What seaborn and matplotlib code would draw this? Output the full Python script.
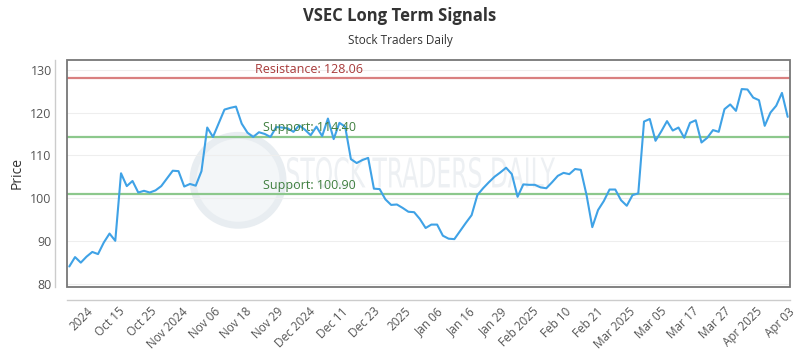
"""VSEC long term signals: price line with resistance / support levels."""

import numpy as np
import pandas as pd
import seaborn as sns
import matplotlib.pyplot as plt
from matplotlib.patches import Rectangle, Ellipse, PathPatch
from matplotlib.textpath import TextPath
from matplotlib.font_manager import FontProperties
from matplotlib.transforms import Affine2D

PRICES = [
    84.0, 86.2, 84.9, 86.3, 87.4, 86.9, 89.6, 91.7, 90.0, 105.8,
    102.8, 104.0, 101.3, 101.7, 101.3, 101.8, 102.8, 104.6, 106.4, 106.3,
    102.7, 103.3, 102.9, 106.3, 116.5, 114.3, 117.5, 120.7, 121.1, 121.4,
    117.4, 115.3, 114.3, 115.4, 115.0, 114.3, 116.6, 116.5, 116.3, 115.5,
    117.0, 116.0, 114.7, 116.7, 114.5, 118.6, 113.8, 117.6, 116.7, 109.1,
    108.2, 108.9, 109.4, 102.2, 102.1, 99.7, 98.4, 98.5, 97.7, 96.8,
    96.7, 95.1, 93.0, 93.8, 93.8, 91.2, 90.5, 90.4, 92.3, 94.2,
    96.0, 100.7, 102.3, 103.7, 105.0, 106.0, 107.1, 105.6, 100.3, 103.2,
    103.1, 103.1, 102.5, 102.3, 103.7, 105.2, 105.9, 105.6, 106.8, 106.6,
    100.7, 93.2, 97.2, 99.3, 102.0, 102.0, 99.5, 98.2, 100.7, 101.1,
    117.9, 118.5, 113.4, 115.6, 118.0, 115.8, 116.5, 114.1, 117.6, 118.2,
    113.0, 114.1, 115.9, 115.5, 120.8, 121.9, 120.4, 125.5, 125.4, 123.5,
    122.9, 116.9, 120.0, 121.6, 124.6, 119.0,
]
TICK_LABELS = [
    "2024", "Oct 15", "Oct 25", "Nov 2024", "Nov 06", "Nov 18", "Nov 29",
    "Dec 2024", "Dec 11", "Dec 23", "2025", "Jan 06", "Jan 16", "Jan 29",
    "Feb 2025", "Feb 10", "Feb 21", "Mar 2025", "Mar 05", "Mar 17",
    "Mar 27", "Apr 2025", "Apr 03",
]
RESISTANCE = 128.06
SUPPORTS = [114.40, 100.90]
Y_TICKS = [80, 90, 100, 110, 120, 130]

sns.set_style("white")
plt.rcParams["font.family"] = ["Open Sans", "DejaVu Sans"]

df = pd.DataFrame({"idx": np.arange(len(PRICES)), "price": PRICES})

fig = plt.figure(figsize=(8, 3.5), dpi=100)
ax = fig.add_axes([0.08375, 0.18, 0.90375, 0.6486])

# faint watermark (logo circle + squeezed text)
ax.add_patch(Ellipse((0.2365, 0.47), 0.1245, 0.396, transform=ax.transAxes,
                     facecolor="#f3f6f8", edgecolor="#e8edf1", lw=5,
                     zorder=0))
wm = TextPath((0, 0), "STOCK TRADERS DAILY", size=1,
              prop=FontProperties(family="DejaVu Sans"))
bb = wm.get_extents()
wm_tr = (Affine2D().translate(-bb.x0, -bb.y0)
         .scale(268 / bb.width, 31 / bb.height).translate(287, 162))
ax.add_patch(PathPatch(wm, transform=wm_tr, facecolor="#edf0f3",
                       edgecolor="none", zorder=0.5, clip_on=False))

for y in Y_TICKS:
    ax.axhline(y, color="#eeeeee", lw=0.8, zorder=1)

sns.lineplot(data=df, x="idx", y="price", color="#3fa2e6", lw=1.5,
             ax=ax, zorder=4)

ax.axhline(RESISTANCE, color="#d98080", lw=1.6, zorder=3)
ax.text(32.3, RESISTANCE + 0.5, f"Resistance: {RESISTANCE:.2f}",
        color="#a83a3a", fontsize=9, va="bottom", ha="left", zorder=5)
for s in SUPPORTS:
    ax.axhline(s, color="#8cc88c", lw=1.6, zorder=3)
    ax.text(33.7, s + 0.5, f"Support: {s:.2f}", color="#3f7f3f",
            fontsize=9, va="bottom", ha="left", zorder=5)

sns.despine(ax=ax, offset=9)
for side in ("left", "bottom"):
    ax.spines[side].set_color("#cccccc")
    ax.spines[side].set_linewidth(1)

ax.set_xlim(-0.4, len(PRICES) - 0.6)
ax.set_ylim(79.2, 132.3)
ax.set_yticks(Y_TICKS)
ax.set_xticks(np.linspace(2.9, len(PRICES) - 1, len(TICK_LABELS)))
ax.set_xticklabels(TICK_LABELS, rotation=45, ha="right",
                   rotation_mode="anchor")
ax.tick_params(axis="both", length=0, labelcolor="#555555")
ax.tick_params(axis="x", pad=4, labelsize=8.5)
ax.tick_params(axis="y", pad=2, labelsize=9)
ax.set_xlabel("")
ax.set_ylabel("Price", fontsize=10, color="#333333", labelpad=4)

ax.add_patch(Rectangle((0, 0), 1, 1, transform=ax.transAxes, fill=False,
                       edgecolor="#777777", lw=1.3, zorder=6, clip_on=False))

fig.text(0.5, 0.955, "VSEC Long Term Signals", ha="center", va="center",
         fontsize=12, fontweight="bold", color="#333333")
fig.text(0.5, 0.885, "Stock Traders Daily", ha="center", va="center",
         fontsize=8.5, color="#333333")

fig.savefig("out.png", dpi=100)
